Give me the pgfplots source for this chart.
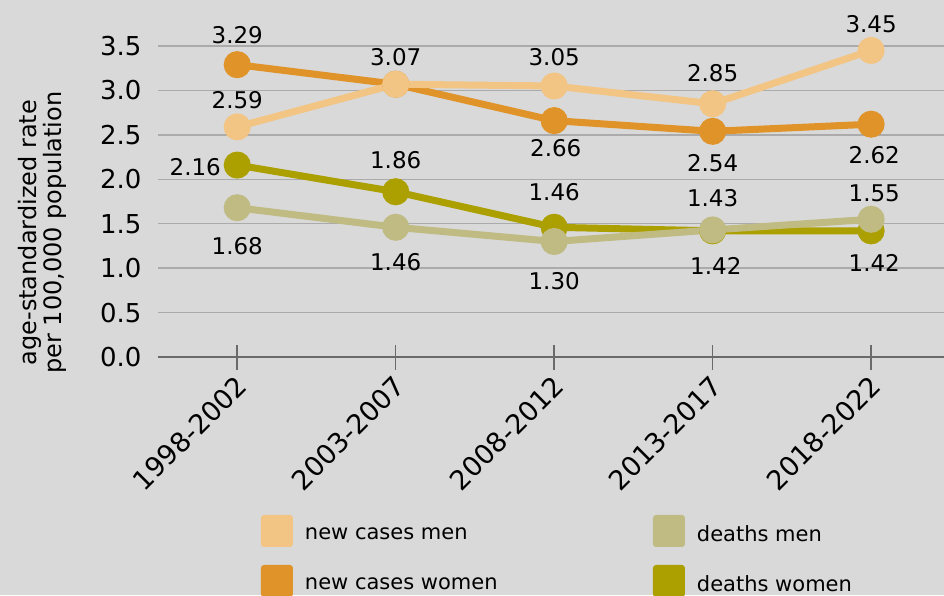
\documentclass[border=0pt]{standalone}
\usepackage{fontspec}
\setmainfont{DejaVu Sans}
\usepackage{pgfplots}
\pgfplotsset{compat=1.18}
\usepackage{pgfplotstable}
\definecolor{bg}{HTML}{D9D9D9}
\definecolor{ncm}{HTML}{F2C584}
\definecolor{ncw}{HTML}{E09328}
\definecolor{dm}{HTML}{BFBB82}
\definecolor{dw}{HTML}{ABA000}
\definecolor{gridc}{HTML}{ABABAB}
\definecolor{axc}{HTML}{6A6A6A}
\pgfplotstableread{
x ncm ncw dm dw
0 2.59 3.29 1.68 2.16
1 3.07 3.07 1.46 1.86
2 3.05 2.66 1.30 1.46
3 2.85 2.54 1.43 1.42
4 3.45 2.62 1.55 1.42
}\data
\pgfplotstableread{
x y t
0 3.62 3.29
0 2.89 2.59
-0.265 2.14 2.16
0 1.25 1.68
1 3.37 3.07
1 2.22 1.86
1 1.07 1.46
2 3.37 3.05
2.01 2.35 2.66
2 1.85 1.46
2 0.85 1.30
3 3.20 2.85
3 2.18 2.54
3 1.79 1.43
3.02 1.02 1.42
4 3.75 3.45
4.02 2.27 2.62
4.02 1.84 1.55
4.02 1.06 1.42
}\labels
\begin{document}
\begin{tikzpicture}
\fill[bg] (-158pt,-238pt) rectangle (786pt,357pt);
\begin{axis}[
  at={(0,0)}, anchor=south west,
  scale only axis, width=786pt, height=311pt,
  xmin=-0.5, xmax=4.46, ymin=0, ymax=3.5,
  clip=false,
  axis x line*=bottom, axis y line*=left,
  x axis line style={axc, line width=1.5pt, -},
  y axis line style={draw=none},
  xtick={0,1,2,3,4},
  xticklabels={1998-2002,2003-2007,2008-2012,2013-2017,2018-2022},
  ytick={0,0.5,1,1.5,2,2.5,3,3.5},
  ymajorgrids, major grid style={gridc, line width=1.5pt},
  xtick style={axc, line width=1.5pt}, ytick style={draw=none},
  major tick length=25pt, xtick align=center,
  /pgf/number format/assume math mode=true,
  yticklabel style={font=\fontsize{26}{26}\selectfont, xshift=-13pt,
    /pgf/number format/fixed, /pgf/number format/precision=1,
    /pgf/number format/fixed zerofill},
  xticklabel style={font=\fontsize{27}{27}\selectfont, xshift=7pt, yshift=-9pt, rotate=45, anchor=east},
  ylabel={age-standardized rate\\per 100,000 population},
  ylabel style={align=center, font=\fontsize{24}{25}\selectfont,
    at={(axis description cs:-0.147,0.40)}, anchor=center},
  legend image code/.code={\fill[#1, rounded corners=3pt] (0pt,-13pt) rectangle (32pt,19pt);},
  legend columns=2,
  legend cell align=left,
  legend style={at={(axis description cs:0.131,-0.508)}, anchor=north west,
    draw=none, fill=none, inner sep=0pt, outer sep=0pt,
    font=\fontsize{21}{24}\selectfont,
    nodes={inner sep=0pt},
    /tikz/row sep=18pt,
    /tikz/every odd column/.append style={column sep=12pt}},
]
\addplot[ncw, line width=7pt, mark=*, mark size=10pt, forget plot] table[x=x,y=ncw]{\data};
\addplot[ncm, line width=7pt, mark=*, mark size=10pt, forget plot] table[x=x,y=ncm]{\data};
\addplot[dw, line width=7pt, mark=*, mark size=10pt, forget plot] table[x=x,y=dw]{\data};
\addplot[dm, line width=7pt, mark=*, mark size=10pt, forget plot] table[x=x,y=dm]{\data};
\addplot[draw=none, mark=none, forget plot, nodes near coords, point meta=explicit symbolic,
  nodes near coords style={anchor=center, font=\fontsize{23}{23}\selectfont, text=black}]
  table[x=x,y=y,meta=t]{\labels};
\addlegendimage{fill=ncm, draw=none}
\addlegendentry{\makebox[348pt][l]{new cases men}}
\addlegendimage{fill=dm, draw=none}
\addlegendentry{deaths men}
\addlegendimage{fill=ncw, draw=none}
\addlegendentry{\makebox[348pt][l]{new cases women}}
\addlegendimage{fill=dw, draw=none}
\addlegendentry{deaths women}
\end{axis}
\pgfresetboundingbox
\useasboundingbox (-158pt,-238pt) rectangle (786pt,357pt);
\end{tikzpicture}
\end{document}
